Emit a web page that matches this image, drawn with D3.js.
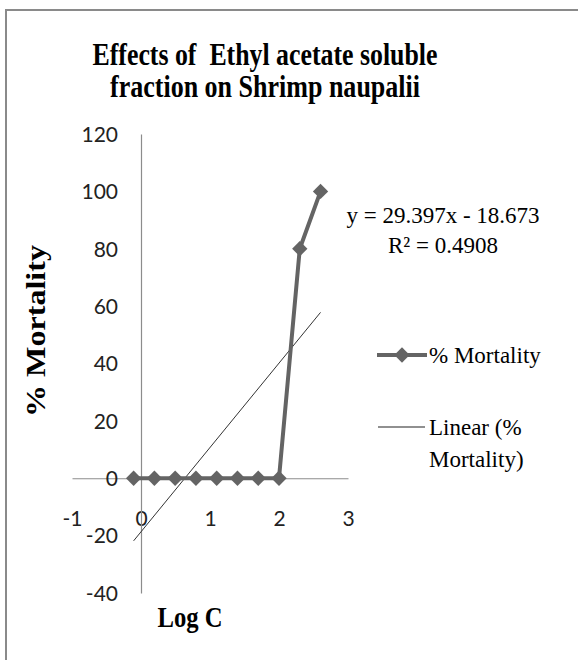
<!DOCTYPE html>
<html>
<head>
<meta charset="utf-8">
<script src="https://cdn.jsdelivr.net/npm/d3@7"></script>
<style>
  html, body { margin: 0; padding: 0; background: #fff; }
  svg { display: block; }
  text { white-space: pre; }
</style>
</head>
<body>
<svg id="chart" width="578" height="660"></svg>
<script>
// ---- data ----
const logC = [-0.107, 0.194, 0.495, 0.796, 1.097, 1.398, 1.699, 2.0, 2.301, 2.602];
const mortality = [0, 0, 0, 0, 0, 0, 0, 0, 80, 100];
const xTicks = [-1, 0, 1, 2, 3];
const yTicks = [-40, -20, 0, 20, 40, 60, 80, 100, 120];
const trendSlope = 29.397;
const trendIntercept = -18.673;
const titleLines = ["Effects of  Ethyl acetate soluble", "fraction on Shrimp naupalii"];
const equationLines = ["y = 29.397x - 18.673", "R\u00B2 = 0.4908"];
const seriesName = "% Mortality";
const trendNameLines = ["Linear (%", "Mortality)"];
const xTitle = "Log C";
const yTitle = "% Mortality";

const svg = d3.select("#chart");
const serif = "'Liberation Serif', 'Times New Roman', serif";
const sans = "Lato, 'Open Sans', sans-serif";
const seriesColor = "#646464";
const axisColor = "#8c8c8c";
const fmt = d => String(d);

// chart border (only top & left visible)
svg.append("rect").attr("x", 6).attr("y", 10).attr("width", 600).attr("height", 700)
  .attr("fill", "none").attr("stroke", "#8a8a8a").attr("stroke-width", 2);

const x = d3.scaleLinear().domain([-1, 3]).range([72, 348]);
const y = d3.scaleLinear().domain([-40, 120]).range([593, 134]);

// title
const titleLens = [345, 310];
titleLines.forEach((t, i) => {
  svg.append("text").attr("x", 265).attr("y", 65 + i * 32)
    .attr("text-anchor", "middle").attr("font-family", serif).attr("font-weight", "bold")
    .attr("font-size", 31).attr("textLength", titleLens[i]).attr("lengthAdjust", "spacingAndGlyphs")
    .attr("xml:space", "preserve")
    .attr("fill", "#000").text(t);
});

// x axis at y=0
const xAxis = svg.append("g").attr("transform", `translate(0,${y(0)})`)
  .call(d3.axisBottom(x).tickValues(xTicks).tickSize(0).tickFormat(fmt));
xAxis.select(".domain").attr("stroke", axisColor).attr("stroke-width", 1.2);
xAxis.selectAll("text").attr("font-family", sans).attr("font-size", 21).attr("fill", "#222")
  .attr("y", 40).attr("dy", "0.35em");

// y axis at x=0
const yAxis = svg.append("g").attr("transform", `translate(${x(0)},0)`)
  .call(d3.axisLeft(y).tickValues(yTicks).tickSize(0).tickFormat(fmt));
yAxis.select(".domain").attr("stroke", axisColor).attr("stroke-width", 1.2);
yAxis.selectAll("text").attr("font-family", sans).attr("font-size", 21).attr("fill", "#222")
  .attr("x", -23).attr("dy", "0.35em");

// trendline
const xMin = d3.min(logC), xMax = d3.max(logC);
svg.append("line")
  .attr("x1", x(xMin)).attr("y1", y(trendSlope * xMin + trendIntercept))
  .attr("x2", x(xMax)).attr("y2", y(trendSlope * xMax + trendIntercept))
  .attr("stroke", "#333").attr("stroke-width", 1);

// series line
const pts = logC.map((v, i) => [v, mortality[i]]);
svg.append("path").datum(pts)
  .attr("d", d3.line().x(d => x(d[0])).y(d => y(d[1])))
  .attr("fill", "none").attr("stroke", seriesColor).attr("stroke-width", 4);

const diamond = d3.symbol().type(d3.symbolDiamond2).size(150);
svg.selectAll("path.pt").data(pts).enter().append("path").attr("class", "pt")
  .attr("transform", d => `translate(${x(d[0])},${y(d[1])})`)
  .attr("d", diamond).attr("fill", seriesColor);

// equation
equationLines.forEach((t, i) => {
  svg.append("text").attr("x", 443).attr("y", 223 + i * 30).attr("text-anchor", "middle")
    .attr("font-family", serif).attr("font-size", 23).attr("fill", "#000").text(t);
});

// legend
const lg = svg.append("g");
lg.append("line").attr("x1", 377).attr("x2", 427).attr("y1", 355).attr("y2", 355)
  .attr("stroke", seriesColor).attr("stroke-width", 4);
lg.append("path").attr("transform", "translate(402,355)").attr("d", diamond).attr("fill", seriesColor);
lg.append("text").attr("x", 429).attr("y", 363).attr("font-family", serif).attr("font-size", 23)
  .attr("fill", "#000").text(seriesName);
lg.append("line").attr("x1", 378).attr("x2", 425).attr("y1", 427).attr("y2", 427)
  .attr("stroke", "#222").attr("stroke-width", 1.2);
trendNameLines.forEach((t, i) => {
  lg.append("text").attr("x", 429).attr("y", 435 + i * 32).attr("font-family", serif).attr("font-size", 23)
    .attr("fill", "#000").text(t);
});

// axis titles
svg.append("text").attr("x", 190).attr("y", 627).attr("text-anchor", "middle")
  .attr("font-family", serif).attr("font-weight", "bold").attr("font-size", 29)
  .attr("textLength", 65).attr("lengthAdjust", "spacingAndGlyphs").text(xTitle);
svg.append("text").attr("transform", "translate(45,331) rotate(-90)").attr("text-anchor", "middle")
  .attr("font-family", serif).attr("font-weight", "bold").attr("font-size", 28)
  .attr("textLength", 172).attr("lengthAdjust", "spacingAndGlyphs").text(yTitle);
</script>
</body>
</html>
